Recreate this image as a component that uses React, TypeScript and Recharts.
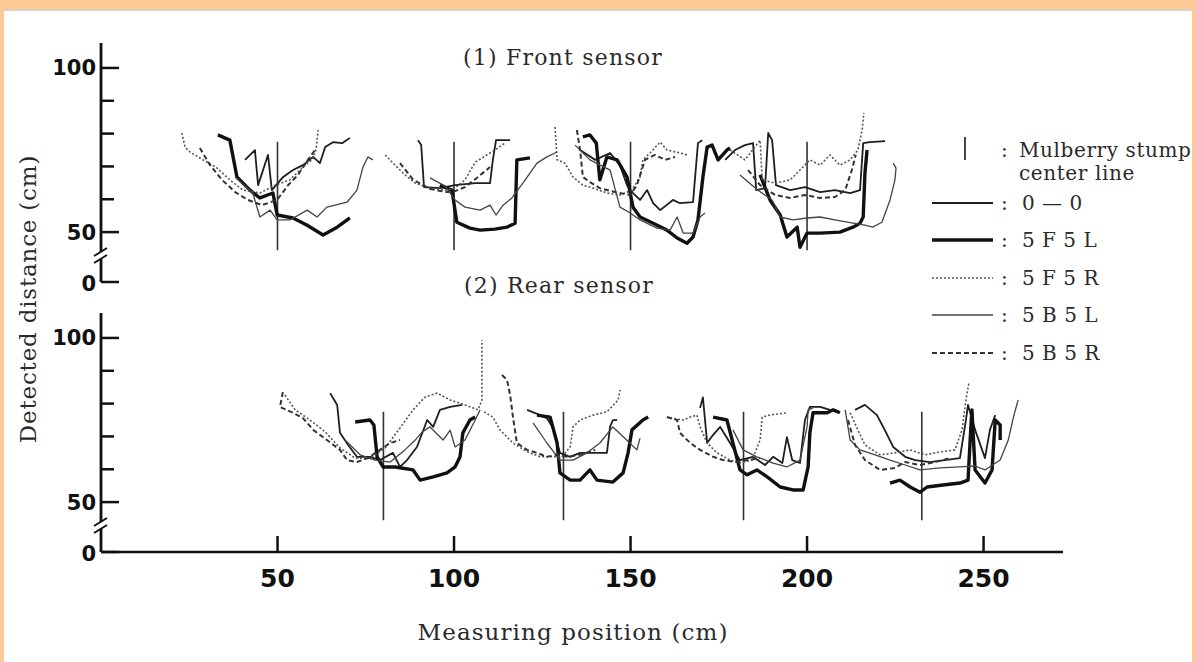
import { LineChart, Line, XAxis, YAxis } from "recharts";

type Seg = [number, number][];

// stump centre lines (measuring position, cm) and their drawn span (detected distance)
const frontStumps = [50, 100, 150, 200];
const rearStumps = [80, 131, 182, 232.5];
const stumpSpan = [77.5, 44.5];

const yTicks = [34.8, 50, 60, 70, 80, 90, 100];
const xTicks = [50, 100, 150, 200, 250];

// ---- front sensor ----
const front00: Seg[] = [
  [[40.8, 72], [43.6, 75], [44.5, 64.3], [47.3, 73.5], [48.4, 62.8], [51.6, 66.8], [54.4, 68.9], [57.2, 70.4], [60.1, 72.9], [62, 71], [63.5, 75.9], [65.7, 77.4], [68.3, 77.1], [70.5, 78.7]],
  [[89.8, 78], [90.7, 76.5], [91.5, 63.7], [96, 63.4], [100.3, 64.3], [106, 64.9], [110.2, 64.9], [111, 72], [111.9, 78], [115.9, 78]],
  [[135.7, 75], [140, 72], [144.2, 74.1], [147, 70.4], [149, 64.3], [150.7, 61.9], [152.7, 59.8], [154.7, 62.8], [156.4, 58.8], [158.4, 56.7], [162, 59.8], [164, 58.8], [167.7, 59.1], [169.1, 77.1], [170.3, 78]],
  [[176.8, 72], [179.6, 75], [182.4, 76.5], [184.7, 77.1], [185.6, 62.8], [188.1, 63.4], [189, 80.2], [190.1, 78], [191.2, 64.3], [195.2, 62.8], [199.4, 63.7], [203.7, 62.2], [207.9, 62.8], [212.2, 61.9], [215, 62.8], [215.9, 77.1], [217.8, 77.4], [222.1, 77.7]],
];
const front5F5L: Seg[] = [
  [[33.1, 79.6], [36.5, 78], [38.5, 66.8], [42.2, 62.8], [45, 60.4], [48.7, 61.9], [49.9, 55.2], [54.4, 54.3], [58.4, 52.1], [62.9, 49.1], [66.9, 51.5], [70.5, 54.3]],
  [[96, 64.3], [99.4, 62.8], [100.8, 53], [104.5, 51.2], [107.4, 50.6], [111.6, 50.9], [115, 51.5], [117.3, 52.7], [117.8, 72], [121.5, 72.6]],
  [[136.5, 79], [138.5, 79.6], [140.3, 77.1], [141.3, 65.9], [143.3, 72.9], [146.2, 72], [149, 66.8], [150.7, 57.6], [152.7, 54.6], [156.4, 52.7], [160.3, 50.6], [163.2, 48.2], [166, 46.6], [167.7, 48.5], [169.1, 53.7], [170.5, 66.8], [171.7, 75.9], [173.1, 76.5], [174.8, 72], [177.3, 75], [178.2, 75.6]],
  [[186.7, 67.4], [189.5, 59.8], [192.4, 55.2], [194.3, 48.5], [197.2, 51.5], [198, 45.4], [200, 49.7], [203.7, 49.7], [209.3, 50], [213, 51.5], [215, 52.7], [215.9, 54.6], [216.4, 68], [217, 75]],
];
const front5F5R: Seg[] = [
  [[22.9, 80.2], [23.8, 75.9], [25.2, 74.4], [28.9, 72], [32.9, 69.5], [36.5, 65.9], [40.2, 62.8], [45, 61.9], [49.3, 64.3], [53.5, 65.9], [57.8, 70.4], [59.8, 72], [60.9, 75], [61.5, 81.1]],
  [[80.5, 73.5], [83.3, 70.4], [86.1, 67.4], [89, 64.9], [93.2, 63.4], [97.5, 62.8], [100.3, 63.4], [103.1, 65.9], [106, 71.3], [109.3, 73.5], [111.6, 75], [114.4, 77.1]],
  [[128.6, 82], [129.2, 72], [131.4, 71], [133.7, 66.8], [136.5, 64.3], [139.4, 63.4], [143.3, 61.9], [147, 61.3], [150.4, 62.8], [152.7, 66.8], [153.5, 72], [155.5, 74.1], [158.4, 77.4], [160.3, 75], [164, 74.1], [166, 73.5]],
  [[178.2, 75], [182.4, 72], [186.7, 78], [187.3, 65.9], [191, 64.9], [195.2, 65.9], [198, 68.9], [200.8, 72], [203.7, 70.4], [206.5, 73.5], [209.3, 70.4], [212.2, 72], [214.4, 75], [215.6, 81.1], [216.1, 86.3]],
];
const front5B5L: Seg[] = [
  [[38, 66.8], [43, 61.9], [45, 54.6], [47.9, 56.7], [49.9, 53.7], [53.5, 53.7], [58.4, 56.7], [61.2, 54.6], [64, 57.6], [69.7, 59.1], [72.5, 62.8], [74.2, 69.8], [75.6, 72.9], [77, 72]],
  [[93.2, 66.5], [97.5, 64], [100.3, 59.8], [103.1, 57.6], [107.4, 56.7], [110.2, 58.2], [111.9, 55.2], [113.9, 58.2], [116.4, 60.4], [119.5, 64.9], [123.5, 71], [126.3, 72.9], [129.2, 74.4]],
  [[134.3, 76.5], [138.5, 72], [144.2, 68.9], [147, 57.6], [149.9, 55.8], [152.7, 53.7], [157.5, 51.2], [161.2, 50.6], [163.2, 54.6], [164.9, 49.7], [167.7, 49.7], [169.7, 54.6], [171.1, 55.8]],
  [[181, 67.4], [186, 62.8], [190.1, 59.8], [192.4, 54.6], [196, 53.7], [200, 54.3], [203.7, 54.6], [207.9, 53.7], [213, 52.7], [216.4, 52.1], [218.6, 51.5], [221.2, 53], [223.5, 59.8], [224.9, 65.9], [225.2, 69.5], [224.4, 71]],
];
const front5B5R: Seg[] = [
  [[28, 75.6], [30.9, 70.4], [34.3, 65.9], [38, 62.2], [41.6, 59.8], [45.6, 58.2], [49.9, 59.8], [53, 64.3], [55.8, 67.4], [58.6, 72], [60.6, 75]],
  [[84.7, 71], [88.4, 66], [93.2, 63.1], [98, 62.2], [100.3, 62.5], [103.1, 63.7], [106.8, 66.8], [110.2, 69.8]],
  [[134.8, 81.1], [135.7, 75], [136.5, 66.8], [138.5, 65.2], [141.3, 63.4], [145.6, 62.2], [149.9, 61.3], [151.8, 64.3], [154.1, 72], [156.9, 73.5], [159.8, 72], [162.6, 72.9]],
  [[183.3, 68.9], [186.7, 64.3], [191, 61.3], [195.2, 60.4], [199.4, 61.3], [203.7, 60.4], [207.9, 60.7], [210.8, 62.8], [212.7, 68.9], [213.8, 73.5]],
];

// ---- rear sensor ----
const rear00: Seg[] = [
  [[64.9, 83.2], [66.9, 79.6], [67.7, 71.1], [70, 67.4], [72.5, 63.8], [76.2, 63.8], [79, 62.8], [82.7, 65], [84.7, 60.7], [86.7, 62.8], [89.5, 66.8], [92.4, 75], [94.1, 72.9], [96, 78.1], [98.9, 79], [102.3, 79.6]],
  [[120.7, 78.1], [124.4, 76.5], [126.3, 75.6], [128, 72.6], [130, 65], [132.9, 63.8], [135.7, 65], [139.4, 65], [143.3, 65], [144.2, 72.9], [145, 75], [146.2, 75]],
  [[169.7, 78.7], [170.5, 81.9], [171.7, 68], [173.4, 70.5], [175.4, 72.9], [178.2, 68], [181, 62.8], [184.7, 63.8], [188.1, 61.3], [190.4, 63.8], [193, 61.9], [194.3, 69.8], [195.8, 62.8], [198, 61.9], [199.4, 75], [200.8, 79], [203.7, 79], [206.5, 78.1]],
  [[213.6, 78.1], [216.4, 79.6], [219.8, 76.5], [222, 72], [224.4, 66.8], [227.8, 63.8], [230.6, 62.8], [234.8, 62.2], [239, 62.8], [243.3, 63.4], [245, 75], [245.6, 79.6], [247.6, 72], [250.4, 63.4], [251.8, 72], [253.3, 76.5]],
];
const rear5F5L: Seg[] = [
  [[72, 74.4], [76.2, 75], [77.3, 73.5], [78.2, 63.8], [79.9, 60.7], [83.3, 60.7], [88.4, 59.8], [90.4, 56.7], [94.1, 57.7], [98, 58.9], [100.3, 60.7], [101.7, 63.8], [102.5, 71.1], [104.5, 75], [106, 75.9]],
  [[123.5, 76.5], [127.2, 75.9], [129.2, 68], [130, 58.9], [132.9, 56.7], [135.7, 56.7], [138.5, 59.8], [140.5, 56.7], [145, 56.1], [147.9, 58.9], [149.3, 65], [150.4, 72], [153.5, 75], [155, 75.9]],
  [[173.4, 75.9], [177.3, 75], [179, 68], [181, 59.8], [183, 58.3], [185.8, 59.8], [188.7, 57.7], [192.4, 54.6], [196, 53.7], [198.9, 53.7], [200.3, 60.7], [200.8, 71.1], [201.7, 77.2], [205.7, 77.2], [207.4, 78.1], [209.3, 77.2]],
  [[223.5, 55.8], [226.3, 56.7], [229.2, 54.6], [232, 53], [234, 54.6], [238.5, 55.2], [243.3, 55.8], [245.6, 56.7], [246.2, 68.9], [246.7, 78.1], [247.6, 59.8], [250.4, 55.8], [252.4, 59.8], [253.3, 75], [254.7, 73.5], [254.7, 68.9]],
];
const rear5F5R: Seg[] = [
  [[52.1, 82.6], [55, 78.1], [59.2, 75], [63.5, 71.4], [67.7, 66.5], [72, 63.4], [76.2, 63.4], [80.5, 66.5], [84.7, 72.6], [88.4, 78.1], [91.8, 82], [95.2, 83.2], [98.9, 81.1], [103.1, 79.6], [106.8, 78.1], [107.9, 81.1], [107.9, 99.4]],
  [[108.5, 77.5], [111, 75.9], [113, 72], [116.7, 68], [120.7, 65.3], [124.4, 63.8], [127.8, 63.8], [130.6, 63.8], [132.9, 66.8], [133.7, 72.9], [135.7, 75], [139.4, 76.5], [143.3, 77.5], [146.5, 81.1], [147, 84.2]],
  [[161.2, 75.6], [164.9, 75], [166.9, 75.9], [168.8, 76.5], [169.7, 72.9], [171.7, 68], [174.5, 65], [178.2, 62.8], [181, 61.9], [184.4, 62.8], [186.7, 68.9], [187.3, 75.9], [189.5, 76.5], [194.3, 77.2]],
  [[212.2, 77.2], [214.4, 72], [216.4, 67.4], [220.7, 64.4], [224.9, 65], [229.2, 65.9], [233.4, 64.4], [237.7, 65.3], [241.9, 65.9], [243.9, 72], [245, 81.1], [245.9, 86.6]],
];
const rear5B5L: Seg[] = [
  [[69.1, 68.9], [73.4, 64.4], [77.6, 62.8], [81.9, 62.2], [86.1, 65.9], [89, 68.9], [91, 71.4], [93.2, 72.9], [96.9, 68.9], [98.9, 71.9], [100.3, 66.8], [103.1, 68.9], [106, 75], [107.4, 78.1]],
  [[122.4, 74.1], [126.3, 68], [130, 62.8], [133.7, 62.8], [137.7, 65], [141.3, 68], [145, 72.9], [148.9, 68.9], [151.8, 65.9], [152.7, 69.5]],
  [[179, 72], [181.9, 65.9], [185.8, 63.8], [190.4, 61.9], [194.3, 60.7], [198, 62.8], [200, 72.9], [200.3, 78.1], [201.7, 78.7]],
  [[210.8, 78.1], [212.2, 68.9], [215, 65.9], [219.3, 64.4], [223.5, 62.8], [227.8, 61.3], [232, 59.8], [237.7, 60.4], [243.3, 60.7], [247.6, 61], [250.4, 59.8], [254.7, 62.8], [257, 68.9], [258.6, 76.5], [259.8, 81.1]],
];
const rear5B5R: Seg[] = [
  [[51.5, 83.5], [50.7, 79], [54.4, 77.2], [57.2, 75.6], [60.1, 72], [64, 68.9], [67.7, 65.9], [69.7, 62.8], [72.5, 62.2], [75.6, 63.4], [79, 65.9], [81.9, 68], [84.7, 68.9]],
  [[113.6, 88.7], [115, 87.2], [115.9, 82.6], [116.7, 75.9], [117.8, 68], [120.7, 65.9], [123.5, 65], [126.3, 63.8], [129.2, 64.4], [132, 63.8], [135.7, 64.4], [140, 65.9]],
  [[160.3, 75.9], [163.2, 75], [164, 71.1], [166.9, 68], [169.7, 65.9], [173.4, 63.8], [176.2, 62.8], [179.6, 62.2], [183.3, 62.8], [186.7, 63.4]],
  [[211.6, 75], [213.6, 67.4], [216.4, 62.8], [220.7, 59.8], [224.9, 60.4], [227.8, 62.2], [232, 61.3], [236.3, 62.2], [240.5, 63.4]],
];

const series = [
  { name: "0 — 0", front: front00, rear: rear00, width: 1.8, dash: undefined as string | undefined, color: "#1e1e1e" },
  { name: "5 F 5 L", front: front5F5L, rear: rear5F5L, width: 3.4, dash: undefined, color: "#111" },
  { name: "5 F 5 R", front: front5F5R, rear: rear5F5R, width: 1.6, dash: "2 2", color: "#555" },
  { name: "5 B 5 L", front: front5B5L, rear: rear5B5L, width: 1.3, dash: undefined, color: "#444" },
  { name: "5 B 5 R", front: front5B5R, rear: rear5B5R, width: 2, dash: "5 3", color: "#333" },
];

function toRows(segs: Seg[]) {
  const rows: { x: number; y: number | null }[] = [];
  segs.forEach((s, i) => {
    if (i > 0) rows.push({ x: s[0][0], y: null });
    s.forEach(([x, y]) => rows.push({ x, y }));
  });
  return rows;
}

const stumpSegs = (xs: number[]): Seg[] => xs.map((x) => [[x, stumpSpan[0]], [x, stumpSpan[1]]]);

const INK = "#111";
const SANS = "'DejaVu Sans', sans-serif";
const SERIF = "'DejaVu Serif', serif";

function YTick(props: any) {
  const { x, y, payload } = props;
  const v = Number(payload.value);
  const isZero = v < 40;
  const label = v === 100 ? "100" : v === 50 ? "50" : isZero ? "0" : "";
  const len = label ? 18 : 13;
  return (
    <g>
      <path d={`M${x},${y}H${x + len}`} stroke={INK} strokeWidth={2.5} fill="none" />
      {isZero && (
        <g>
          <rect x={x - 3} y={y - 30} width={6} height={7} fill="#fff" />
          <path d={`M${x - 7},${y - 19}L${x + 6},${y - 27}M${x - 7},${y - 26}L${x + 6},${y - 34}`} stroke={INK} strokeWidth={2} fill="none" />
        </g>
      )}
      <text x={x - 5} y={y} dy={isZero ? 9 : 7.5} textAnchor="end" fontFamily={SANS} fontWeight="bold" fontSize={21} fill={INK}>
        {label}
      </text>
    </g>
  );
}

function XTick(props: any) {
  const { x, y, payload } = props;
  return (
    <g>
      <path d={`M${x},${y}V${y - 16}`} stroke={INK} strokeWidth={2.5} fill="none" />
      <text x={x} y={y + 35} textAnchor="middle" fontFamily={SANS} fontWeight="bold" fontSize={25} fill={INK}>
        {payload.value}
      </text>
    </g>
  );
}

function SensorChart({ front }: { front: boolean }) {
  const margin = front
    ? { top: 43, right: 133, bottom: 380, left: 41 }
    : { top: 313, right: 133, bottom: 80, left: 41 };
  return (
    <div style={{ position: "absolute", left: 0, top: 0 }}>
      <LineChart width={1196} height={662} margin={margin}>
        <XAxis
          type="number"
          dataKey="x"
          domain={[0, 272.5]}
          allowDataOverflow
          hide={front}
          height={30}
          ticks={xTicks}
          interval={0}
          minTickGap={0}
          tickSize={0}
          tickMargin={0}
          tickLine={false}
          tick={(p: any) => <XTick {...p} />}
          axisLine={{ stroke: INK, strokeWidth: 2.5 }}
        />
        <YAxis
          type="number"
          domain={[34.8, 107.6]}
          allowDataOverflow
          width={60}
          ticks={yTicks}
          interval={0}
          minTickGap={0}
          tickSize={0}
          tickMargin={0}
          tickLine={false}
          tick={(p: any) => <YTick {...p} />}
          axisLine={{ stroke: INK, strokeWidth: 2.8 }}
        />
        <Line
          data={toRows(stumpSegs(front ? frontStumps : rearStumps))}
          dataKey="y"
          stroke="#333"
          strokeWidth={1.6}
          dot={false}
          activeDot={false}
          isAnimationActive={false}
        />
        {series.map((s) => (
          <Line
            key={s.name}
            data={toRows(front ? s.front : s.rear)}
            dataKey="y"
            type="linear"
            stroke={s.color}
            strokeWidth={s.width}
            strokeDasharray={s.dash}
            strokeLinejoin="round"
            dot={false}
            activeDot={false}
            isAnimationActive={false}
          />
        ))}
      </LineChart>
    </div>
  );
}

const legendRows = [203, 240, 278, 315, 353];

export default function App() {
  return (
    <div style={{ position: "absolute", left: 0, top: 0, width: 1196, height: 662, background: "#ffc995", overflow: "hidden" }}>
      <div style={{ position: "absolute", left: 4, top: 9, width: 1188, height: 653, background: "#fff", borderTop: "2px solid #d9d2cb" }} />
      <SensorChart front={true} />
      <SensorChart front={false} />
      <svg width={1196} height={662} style={{ position: "absolute", left: 0, top: 0, pointerEvents: "none" }}>
        <g fontFamily={SERIF} fill="#2a2a2a">
          <text x={563} y={65} textAnchor="middle" fontSize={22} letterSpacing={1.2}>(1) Front sensor</text>
          <text x={559} y={293} textAnchor="middle" fontSize={22} letterSpacing={1.2}>(2) Rear sensor</text>
          <text x={573} y={640} textAnchor="middle" fontSize={23} letterSpacing={1.1}>Measuring position (cm)</text>
          <text transform="translate(36,299) rotate(-90)" textAnchor="middle" fontSize={23} letterSpacing={0.8}>Detected distance (cm)</text>
          <line x1={965} y1={137} x2={965} y2={160} stroke="#444" strokeWidth={2} />
          <text x={1001} y={157} fontSize={20}>:</text>
          <text x={1019} y={157} fontSize={20} letterSpacing={0.6}>Mulberry stump</text>
          <text x={1019} y={180} fontSize={20} letterSpacing={0.6}>center line</text>
          {series.map((s, i) => (
            <g key={s.name}>
              <line x1={932} y1={legendRows[i]} x2={993} y2={legendRows[i]} stroke={s.color} strokeWidth={s.width} strokeDasharray={s.dash} />
              <text x={1001} y={legendRows[i] + 7} fontSize={20}>:</text>
              <text x={1022} y={legendRows[i] + 7} fontSize={20} letterSpacing={0.5}>{s.name}</text>
            </g>
          ))}
        </g>
      </svg>
    </div>
  );
}
